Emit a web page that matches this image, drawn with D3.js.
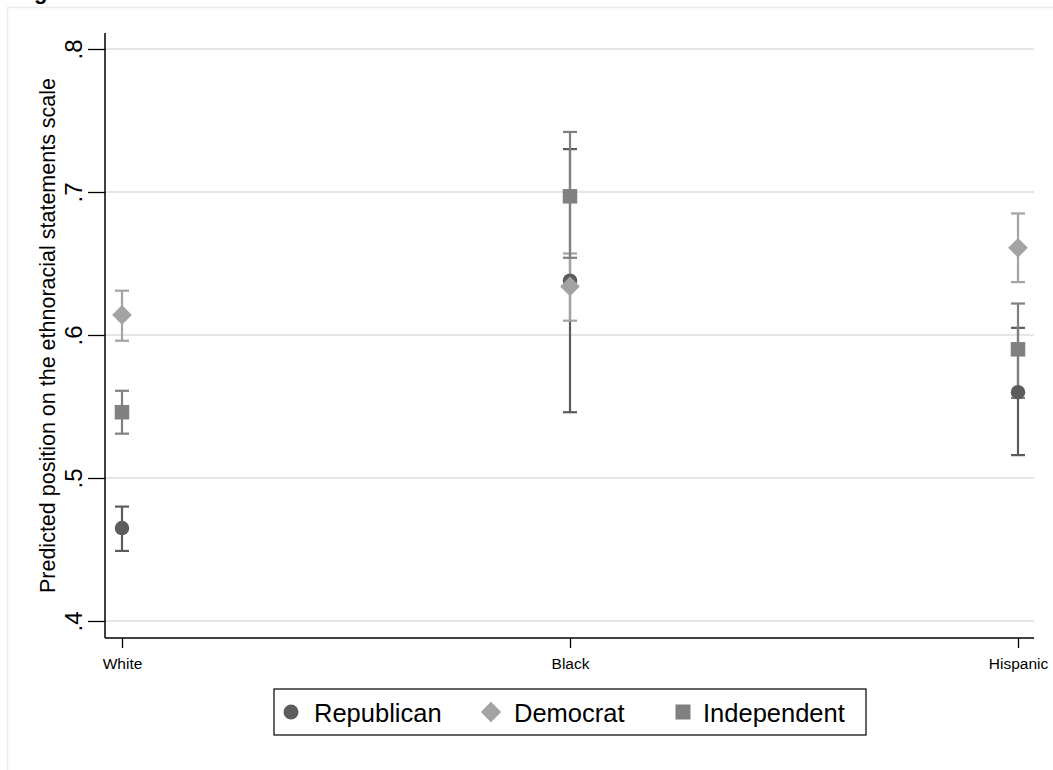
<!DOCTYPE html>
<html><head><meta charset="utf-8">
<script src="https://cdn.jsdelivr.net/npm/d3@7"></script>
<style>body{margin:0;background:#fff}svg{display:block}text{font-family:"Liberation Sans",Arial,sans-serif}</style>
</head><body>
<svg id="c" width="1053" height="770"></svg>
<script>
const categories = ["White", "Black", "Hispanic"];
const seriesNames = ["Republican", "Democrat", "Independent"];
const republican = [0.465, 0.638, 0.560];
const republicanLo = [0.449, 0.546, 0.516];
const republicanHi = [0.480, 0.730, 0.605];
const democrat = [0.614, 0.634, 0.661];
const democratLo = [0.596, 0.610, 0.637];
const democratHi = [0.631, 0.657, 0.685];
const independent = [0.546, 0.697, 0.590];
const independentLo = [0.531, 0.654, 0.556];
const independentHi = [0.561, 0.742, 0.622];
const yTicks = [0.4, 0.5, 0.6, 0.7, 0.8];
const yTickLabels = [".4", ".5", ".6", ".7", ".8"];

const colors = {Republican: "#5c5c5c", Democrat: "#a3a3a3", Independent: "#808080"};
const series = [
  {name: "Republican", v: republican, lo: republicanLo, hi: republicanHi, shape: "circle"},
  {name: "Democrat", v: democrat, lo: democratLo, hi: democratHi, shape: "diamond"},
  {name: "Independent", v: independent, lo: independentLo, hi: independentHi, shape: "square"}
];

const svg = d3.select("#c");
// outer frame
svg.append("rect").attr("x", 7.5).attr("y", 7.5).attr("width", 1060).attr("height", 780)
  .attr("fill", "none").attr("stroke", "#ececec").attr("stroke-width", 1.5);
svg.append("text").attr("x", 34).attr("y", -1).attr("font-size", 22).attr("font-weight", "bold")
  .attr("font-family", "Liberation Serif").text("g");

const x = d3.scalePoint().domain(categories).range([122, 1018]);
const y = d3.scaleLinear().domain([0.4, 0.8]).range([621, 49]);
const plotLeft = 105, plotRight = 1034, plotBottom = 638, plotTop = 33;

// gridlines
svg.append("g").selectAll("line").data(yTicks).join("line")
  .attr("x1", plotLeft).attr("x2", plotRight)
  .attr("y1", d => y(d)).attr("y2", d => y(d))
  .attr("stroke", "#e6e6e6").attr("stroke-width", 2);

// y axis
const yAxis = d3.axisLeft(y).tickValues(yTicks).tickFormat((d, i) => yTickLabels[i]).tickSize(17).tickSizeOuter(0);
const gy = svg.append("g").attr("transform", `translate(${plotLeft},0)`).call(yAxis);
gy.select(".domain").attr("d", `M0,${plotTop}V${plotBottom}`).attr("stroke", "#000").attr("stroke-width", 1.5);
gy.selectAll(".tick line").attr("stroke", "#000").attr("stroke-width", 1.3);
gy.selectAll(".tick text").attr("font-size", 24).attr("fill", "#000")
  .attr("transform", "rotate(-90)").attr("x", 0).attr("y", -23).attr("dy", 0)
  .attr("text-anchor", "middle").attr("dominant-baseline", "auto");

// x axis
const xAxis = d3.axisBottom(x).tickSize(10).tickSizeOuter(0);
const gx = svg.append("g").attr("transform", `translate(0,${plotBottom})`).call(xAxis);
gx.select(".domain").attr("d", `M${plotLeft},0H${plotRight}`).attr("stroke", "#000").attr("stroke-width", 1.5);
gx.selectAll(".tick line").attr("stroke", "#000").attr("stroke-width", 1.3);
gx.selectAll(".tick text").attr("font-size", 15.5).attr("fill", "#000").attr("y", 20).attr("dy", "0.71em");

// y title
svg.append("text").attr("transform", `translate(55,${(plotTop + plotBottom) / 2}) rotate(-90)`)
  .attr("text-anchor", "middle").attr("font-size", 21.5).attr("fill", "#000")
  .text("Predicted position on the ethnoracial statements scale");

function drawShape(g, shape, cx, cy, color, size) {
  if (shape === "circle") g.append("circle").attr("cx", cx).attr("cy", cy).attr("r", size * 0.5).attr("fill", color);
  else if (shape === "square") g.append("rect").attr("x", cx - size * 0.5).attr("y", cy - size * 0.5).attr("width", size).attr("height", size).attr("fill", color);
  else {
    const h = size * 0.68;
    g.append("path").attr("d", `M${cx},${cy - h}L${cx + h},${cy}L${cx},${cy + h}L${cx - h},${cy}Z`).attr("fill", color);
  }
}

const marks = svg.append("g");
series.forEach(s => {
  const c = colors[s.name];
  categories.forEach((cat, i) => {
    const cx = x(cat);
    marks.append("line").attr("x1", cx).attr("x2", cx).attr("y1", y(s.lo[i])).attr("y2", y(s.hi[i]))
      .attr("stroke", c).attr("stroke-width", 2.2);
    [s.lo[i], s.hi[i]].forEach(v => marks.append("line").attr("x1", cx - 7).attr("x2", cx + 7)
      .attr("y1", y(v)).attr("y2", y(v)).attr("stroke", c).attr("stroke-width", 2.2));
  });
});
series.forEach(s => {
  categories.forEach((cat, i) => drawShape(marks, s.shape, x(cat), y(s.v[i]), colors[s.name], 14.5));
});

// legend
const leg = svg.append("g");
leg.append("rect").attr("x", 274).attr("y", 689).attr("width", 592).attr("height", 46)
  .attr("fill", "#fff").attr("stroke", "#000").attr("stroke-width", 1.2);
const legX = [291, 491, 683];
const legTextX = [314, 514, 703];
series.forEach((s, i) => {
  drawShape(leg, s.shape, legX[i], 712, colors[s.name], 15);
  leg.append("text").attr("x", legTextX[i]).attr("y", 722).attr("font-size", 25.5).attr("fill", "#000").text(s.name);
});
</script>
</body></html>
